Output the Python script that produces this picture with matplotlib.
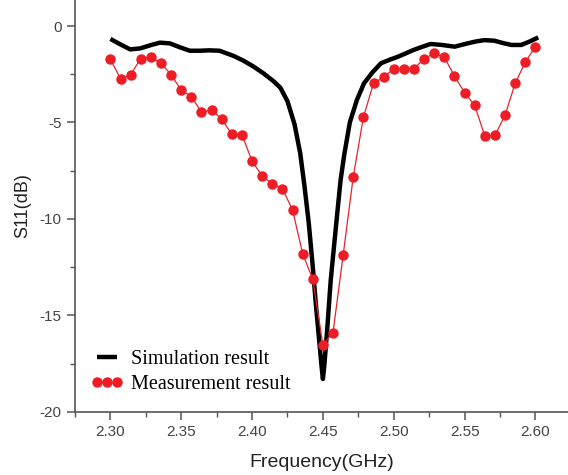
import numpy as np
import matplotlib.pyplot as plt
from matplotlib.ticker import MultipleLocator

plt.rcParams['axes.unicode_minus'] = False

# measured S11, 43 points from 2.30 to 2.60 GHz
meas_freq = np.linspace(2.30, 2.60, 43)
meas_s11 = [-1.73, -2.73, -2.52, -1.69, -1.62, -1.93, -2.52, -3.32, -3.66, -4.46,
            -4.35, -4.83, -5.60, -5.63, -7.01, -7.77, -8.19, -8.43, -9.53, -11.81,
            -13.13, -16.53, -15.89, -11.88, -7.81, -4.73, -2.97, -2.66, -2.21, -2.21,
            -2.21, -1.69, -1.42, -1.62, -2.59, -3.45, -4.11, -5.70, -5.66, -4.63,
            -2.97, -1.87, -1.07]

# simulated S11
sim_freq = [2.300, 2.307, 2.314, 2.321, 2.328, 2.335, 2.342, 2.349, 2.356, 2.363,
            2.370, 2.377, 2.387, 2.394, 2.401, 2.408, 2.415, 2.420, 2.425, 2.430,
            2.434, 2.437, 2.440, 2.443, 2.445, 2.447, 2.449, 2.450, 2.451, 2.453,
            2.4555, 2.458, 2.460, 2.4625, 2.465, 2.469, 2.474, 2.479, 2.485, 2.491,
            2.497, 2.503, 2.509, 2.514, 2.520, 2.526, 2.534, 2.543, 2.552, 2.558,
            2.564, 2.571, 2.577, 2.583, 2.590, 2.596, 2.602]
sim_s11 = [-0.67, -0.95, -1.21, -1.16, -1.00, -0.86, -0.90, -1.10, -1.28, -1.28,
           -1.26, -1.28, -1.55, -1.80, -2.10, -2.45, -2.85, -3.20, -3.90, -5.10,
           -6.60, -8.30, -10.20, -12.60, -14.40, -16.00, -17.60, -18.30, -17.60, -15.75,
           -13.20, -11.30, -9.80, -7.98, -6.70, -5.00, -3.83, -2.97, -2.40, -1.93,
           -1.75, -1.59, -1.40, -1.24, -1.08, -0.93, -0.98, -1.07, -0.90, -0.80,
           -0.73, -0.76, -0.88, -0.98, -0.98, -0.80, -0.59]

fig = plt.figure(figsize=(5.68, 4.75), dpi=100)
ax = fig.add_axes([0.132, 0.133, 0.868, 0.867])

ax.plot(sim_freq, sim_s11, color='black', lw=3.2, solid_capstyle='butt',
        label='Simulation result', zorder=2)
ax.plot(meas_freq, meas_s11, color='#e3242b', lw=0.9, marker='o', ms=6.5,
        mfc='#ee1c25', mec='#ee1c25', label='Measurement result', zorder=3)

ax.set_xlim(2.275, 2.623)
ax.set_ylim(-20, 1.35)
ax.xaxis.set_minor_locator(MultipleLocator(0.025))
ax.yaxis.set_major_locator(MultipleLocator(5))
ax.yaxis.set_minor_locator(MultipleLocator(2.5))
ax.set_xticks(np.arange(2.30, 2.601, 0.05))
ax.set_xticklabels(['2.30', '2.35', '2.40', '2.45', '2.50', '2.55', '2.60'])

for s in ['top', 'right']:
    ax.spines[s].set_visible(False)
for s in ['left', 'bottom']:
    ax.spines[s].set_color('#555555')
    ax.spines[s].set_linewidth(1.2)
ax.tick_params(which='major', direction='out', length=6, width=1.1,
               color='#555555', labelcolor='#444444', labelsize=11,
               labelfontfamily='Liberation Sans')
ax.tick_params(which='minor', direction='out', length=3.5, width=1.0, color='#555555')

ax.set_xlabel('Frequency(GHz)', fontsize=14, family='Liberation Sans', color='#222222', labelpad=11)
ax.set_ylabel('S11(dB)', fontsize=13, family='Liberation Sans', color='#222222', labelpad=6)

ax.legend(loc='lower left', bbox_to_anchor=(-0.004, 0.0), frameon=False, numpoints=3,
          handlelength=1.6, handletextpad=0.4, labelspacing=0.3,
          prop={'family': 'Liberation Serif', 'size': 14.5})

fig.savefig('out.png', dpi=100)
